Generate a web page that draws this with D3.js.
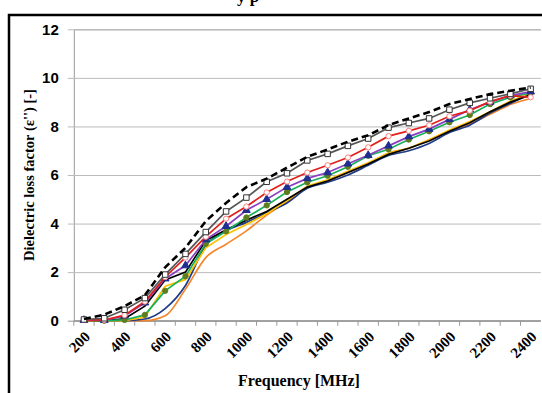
<!DOCTYPE html>
<html>
<head>
<meta charset="utf-8">
<script src="https://cdn.jsdelivr.net/npm/d3@7"></script>
<style>
  body { margin: 0; background: #fff; }
  svg { display: block; font-family: "Liberation Serif", "Times New Roman", serif; }
  .axis text { font-weight: bold; font-size: 15px; fill: #000; }
</style>
</head>
<body>
<svg width="542" height="393"></svg>
<script>
var svg = d3.select('svg'),
  width = +svg.attr('width'),
  height = +svg.attr('height');

// frequencies (MHz), one point each
var freqs = [200, 300, 400, 500, 600, 700, 800, 900, 1000, 1100, 1200, 1300, 1400, 1500, 1600, 1700, 1800, 1900, 2000, 2100, 2200, 2300, 2400];
var freqLabels = ['200', '400', '600', '800', '1000', '1200', '1400', '1600', '1800', '2000', '2200', '2400'];
var yTicks = [0, 2, 4, 6, 8, 10, 12];

// series values
var dashedTop = [0.07, 0.25, 0.6, 1.05, 2.2, 3.0, 4.1, 4.85, 5.5, 5.85, 6.3, 6.75, 7.05, 7.37, 7.64, 8.05, 8.33, 8.59, 8.92, 9.13, 9.33, 9.47, 9.6];
var graySq = [0.05, 0.1, 0.45, 0.93, 1.9, 2.75, 3.65, 4.5, 5.07, 5.72, 6.07, 6.6, 6.87, 7.2, 7.5, 7.95, 8.14, 8.33, 8.69, 8.97, 9.16, 9.34, 9.55];
var redDia = [0.03, 0.03, 0.23, 0.79, 1.8, 2.6, 3.46, 4.2, 4.7, 5.28, 5.73, 6.1, 6.4, 6.72, 7.14, 7.6, 7.82, 8.05, 8.42, 8.65, 9.02, 9.27, 9.2];
var purpleTri = [0.02, 0.02, 0.2, 0.74, 1.73, 2.27, 3.34, 3.89, 4.55, 5.0, 5.5, 5.86, 6.1, 6.46, 6.81, 7.2, 7.58, 7.89, 8.29, 8.69, 9.0, 9.27, 9.43];
var greenCirc = [0.03, 0.0, 0.03, 0.24, 1.23, 1.83, 3.17, 3.68, 4.25, 4.75, 5.3, 5.7, 5.97, 6.34, 6.79, 7.06, 7.46, 7.8, 8.17, 8.47, 8.92, 9.2, 9.38];
var blackSolid = [0.02, 0.0, 0.08, 0.6, 1.68, 2.0, 3.3, 3.75, 4.14, 4.5, 5.0, 5.5, 5.75, 6.1, 6.45, 6.85, 7.1, 7.4, 7.8, 8.15, 8.6, 9.0, 9.3];
var yellowLine = [0, 0, 0, 0.15, 1.42, 1.7, 3.0, 3.55, 3.96, 4.4, 4.95, 5.55, 5.8, 6.15, 6.5, 6.9, 7.1, 7.45, 7.85, 8.2, 8.6, 9.05, 9.35];
var navyLine = [0, 0, 0, 0.07, 0.5, 1.45, 3.1, 3.7, 4.05, 4.45, 4.85, 5.45, 5.7, 6.0, 6.4, 6.8, 7.0, 7.3, 7.75, 8.05, 8.55, 8.95, 9.35];
var orangeLine = [0, 0, 0, 0, 0.2, 1.3, 2.6, 3.15, 3.7, 4.35, 4.9, 5.5, 5.75, 6.1, 6.45, 6.9, 7.1, 7.45, 7.8, 8.1, 8.5, 8.9, 9.15];

var series = [
  {values: orangeLine, color: '#f4862c', smooth: true},
  {values: navyLine, color: '#1f3c88', smooth: true},
  {values: yellowLine, color: '#ffc000'},
  {values: blackSolid, color: '#000'},
  {values: greenCirc, color: '#17b05a', marker: 'circle', mfill: '#5f7d1e', mstroke: '#5f7d1e'},
  {values: purpleTri, color: '#8a3fc0', marker: 'triangle', mfill: '#1f2f8f', mstroke: '#1f2f8f'},
  {values: redDia, color: '#e0201b', marker: 'diamond', mfill: '#fff', mstroke: '#ff7f7f'},
  {values: graySq, color: '#555', marker: 'square', mfill: '#fff', mstroke: '#333'},
  {values: dashedTop, color: '#000', dash: '7,4', w: 2.6}
];

var x = d3.scaleBand().domain(freqs).range([73.8, 540.8]),
  y = d3.scaleLinear().domain([0, 12]).range([320.7, 29.3]);

// outer frame
svg.append('rect')
  .attr('x', 9).attr('y', 15)
  .attr('width', width + 20).attr('height', height + 20)
  .attr('fill', 'none').attr('stroke', '#000').attr('stroke-width', 2.5);

// title, cut off by the top edge as in the source
svg.append('text')
  .attr('x', 248).attr('y', 2)
  .attr('text-anchor', 'middle')
  .style('font-size', '17px').style('font-weight', 'bold')
  .text('y p');

// grid + y axis
var gy = svg.append('g')
  .attr('class', 'axis')
  .attr('transform', 'translate(73.8,0)')
  .call(d3.axisLeft(y).tickValues(yTicks).tickSize(-(540.8 - 73.8)).tickPadding(15).tickFormat(d3.format('d')));
gy.select('.domain').attr('stroke', '#999');
gy.selectAll('.tick line').attr('stroke', '#bbb').attr('x1', -6);
gy.selectAll('.tick').filter(d => d === 0).select('line').attr('stroke', '#999');

// x axis
var gx = svg.append('g')
  .attr('class', 'axis')
  .attr('transform', 'translate(0,' + y(0) + ')');
gx.append('line')
  .attr('x1', 73.8).attr('x2', 540.8)
  .attr('stroke', '#999');
gx.selectAll('.tk')
  .data(freqs)
  .enter()
  .append('line')
  .attr('x1', d => x(d)).attr('x2', d => x(d))
  .attr('y1', 0).attr('y2', 5)
  .attr('stroke', '#999');
gx.selectAll('.lbl')
  .data(freqLabels)
  .enter()
  .append('text')
  .attr('text-anchor', 'end')
  .attr('transform', d => 'translate(' + (x(+d) + x.bandwidth() / 2 + 7) + ',17) rotate(-45)')
  .text(d => d);

// axis titles
svg.append('text')
  .attr('transform', 'translate(34,175) rotate(-90)')
  .attr('text-anchor', 'middle')
  .style('font-size', '14.5px').style('font-weight', 'bold')
  .text('Dielectric loss factor (\u03b5\'\') [-]');

svg.append('text')
  .attr('x', 299).attr('y', 386)
  .attr('text-anchor', 'middle')
  .style('font-size', '16px').style('font-weight', 'bold')
  .text('Frequency [MHz]');

var cx = (d, i) => x(freqs[i]) + x.bandwidth() / 2;

var line = d3.line().x((d, i) => cx(d, i)).y(d => y(d));
var smoothLine = d3.line().x((d, i) => cx(d, i)).y(d => y(d)).curve(d3.curveMonotoneX);

var sym = {
  circle: d3.symbol().type(d3.symbolCircle).size(22),
  triangle: d3.symbol().type(d3.symbolTriangle).size(26),
  diamond: d3.symbol().type(d3.symbolCircle).size(22),
  square: d3.symbol().type(d3.symbolSquare).size(30)
};

var s = svg.selectAll('.series')
  .data(series)
  .enter()
  .append('g')
  .attr('class', 'series');

s.append('path')
  .attr('d', d => (d.smooth ? smoothLine : line)(d.values))
  .attr('fill', 'none')
  .attr('stroke', d => d.color)
  .attr('stroke-width', d => d.w || 1.7)
  .attr('stroke-dasharray', d => d.dash || null);

s.filter(d => d.marker)
  .each(function(d) {
    d3.select(this).selectAll('path.m')
      .data(d.values)
      .enter()
      .append('path')
      .attr('class', 'm')
      .attr('d', sym[d.marker]())
      .attr('transform', (v, i) => 'translate(' + cx(v, i) + ',' + y(v) + ')')
      .attr('fill', d.mfill)
      .attr('stroke', d.mstroke)
      .attr('stroke-width', 1);
  });
</script>
</body>
</html>
